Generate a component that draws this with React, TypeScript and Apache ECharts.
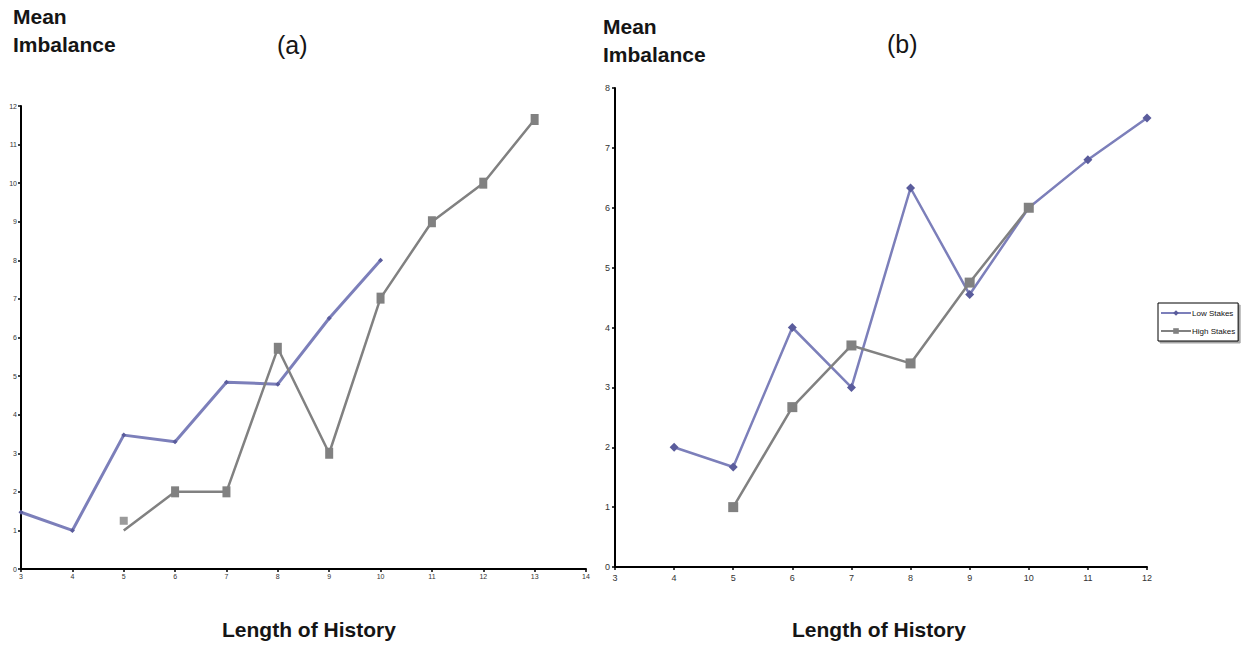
import React, { useEffect, useRef } from "react";
import * as echarts from "echarts";

const historyA = [3, 4, 5, 6, 7, 8, 9, 10, 11, 12, 13];
const lowStakesA = [1.47, 1.0, 3.47, 3.3, 4.84, 4.79, 6.5, 8.0, null, null, null];
const highStakesA = [null, null, 1.0, 2.0, 2.0, 5.72, 3.0, 7.02, 9.0, 10.0, 11.65];
const highStakesAStrayMarker = [[5, 1.25]];

const historyB = [4, 5, 6, 7, 8, 9, 10, 11, 12];
const lowStakesB = [2.0, 1.67, 4.0, 3.0, 6.33, 4.55, 6.0, 6.8, 7.5];
const highStakesB = [null, 1.0, 2.67, 3.7, 3.4, 4.75, 6.0, null, null];

const legendNames = ["Low Stakes", "High Stakes"];

const FONT = "'Liberation Sans', Arial, sans-serif";
const BLUE_LINE = "#7c7fba";
const BLUE_MARK = "#5a5c9c";
const GRAY = "#818181";

function pairs(xs: number[], ys: (number | null)[]) {
  return xs.map((x, i) => [x, ys[i]]).filter((p) => p[1] !== null);
}

export default function App() {
  const ref = useRef<HTMLDivElement>(null);
  useEffect(() => {
    if (!ref.current) return;
    const chart = echarts.init(ref.current, null, { renderer: "svg" });
    const axisCommon = {
      axisLine: { show: true, lineStyle: { color: "#000", width: 2 } },
      axisTick: { show: true, length: 3, lineStyle: { color: "#000", width: 1.5 } },
      splitLine: { show: false },
    };
    const bigTitle = { fontFamily: FONT, fontSize: 21, fontWeight: "bold", color: "#151515", lineHeight: 28 };
    const panelTitle = { fontFamily: FONT, fontSize: 25, fontWeight: "normal", color: "#151515", lineHeight: 25 };
    const axisTitle = { fontFamily: FONT, fontSize: 21, fontWeight: "bold", color: "#151515", lineHeight: 21 };
    chart.setOption({
      animation: false,
      backgroundColor: "#fff",
      textStyle: { fontFamily: FONT },
      title: [
        { text: "Mean\nImbalance", left: 13, top: 2, padding: 0, textStyle: bigTitle },
        { text: "(a)", left: 277, top: 32, padding: 0, textStyle: panelTitle },
        { text: "Mean\nImbalance", left: 603, top: 12, padding: 0, textStyle: bigTitle },
        { text: "(b)", left: 887, top: 31, padding: 0, textStyle: panelTitle },
        { text: "Length of History", left: 222, top: 619, padding: 0, textStyle: axisTitle },
        { text: "Length of History", left: 792, top: 619, padding: 0, textStyle: axisTitle },
      ],
      legend: {
        data: legendNames,
        orient: "vertical",
        left: 1158,
        top: 303,
        itemWidth: 30,
        itemHeight: 7,
        itemGap: 10,
        padding: [6, 3, 6, 2],
        borderColor: "#000",
        borderWidth: 1,
        shadowColor: "rgba(0,0,0,0.35)",
        shadowOffsetX: 2,
        shadowOffsetY: 2,
        shadowBlur: 1,
        backgroundColor: "#fff",
        textStyle: { fontFamily: FONT, fontSize: 8, color: "#111", padding: [0, 0, 0, -4] },
      },
      grid: [
        { left: 21, top: 106, width: 565, height: 463 },
        { left: 615, top: 88, width: 532, height: 479 },
      ],
      xAxis: [
        { ...axisCommon, gridIndex: 0, type: "value", min: 3, max: 14, interval: 1, axisLabel: { fontSize: 7, color: "#333", margin: 4 } },
        { ...axisCommon, gridIndex: 1, type: "value", min: 3, max: 12, interval: 1, axisLabel: { fontSize: 9, color: "#333", margin: 6 } },
      ],
      yAxis: [
        { ...axisCommon, gridIndex: 0, type: "value", min: 0, max: 12, interval: 1, axisLabel: { fontSize: 7, color: "#333", margin: 4 } },
        { ...axisCommon, gridIndex: 1, type: "value", min: 0, max: 8, interval: 1, axisLabel: { fontSize: 9, color: "#333", margin: 5 } },
      ],
      series: [
        {
          name: "Low Stakes", type: "line", xAxisIndex: 0, yAxisIndex: 0,
          data: pairs(historyA, lowStakesA),
          symbol: "diamond", symbolSize: 5,
          lineStyle: { color: BLUE_LINE, width: 3 },
          itemStyle: { color: BLUE_MARK },
        },
        {
          name: "High Stakes", type: "line", xAxisIndex: 0, yAxisIndex: 0,
          data: pairs(historyA, highStakesA).map((p, i) => (i === 0 ? { value: p, symbol: "none" } : { value: p })),
          symbol: "rect", symbolSize: [8, 11],
          lineStyle: { color: GRAY, width: 2.5 },
          itemStyle: { color: GRAY },
        },
        {
          name: "stray", type: "scatter", xAxisIndex: 0, yAxisIndex: 0,
          data: highStakesAStrayMarker,
          symbol: "rect", symbolSize: [8, 8],
          itemStyle: { color: GRAY },
        },
        {
          name: "Low Stakes", type: "line", xAxisIndex: 1, yAxisIndex: 1,
          data: pairs(historyB, lowStakesB),
          symbol: "diamond", symbolSize: 9,
          lineStyle: { color: BLUE_LINE, width: 2.5 },
          itemStyle: { color: BLUE_MARK },
        },
        {
          name: "High Stakes", type: "line", xAxisIndex: 1, yAxisIndex: 1,
          data: pairs(historyB, highStakesB),
          symbol: "rect", symbolSize: 10,
          lineStyle: { color: GRAY, width: 2.5 },
          itemStyle: { color: GRAY },
        },
      ],
    });
    return () => chart.dispose();
  }, []);
  return (
    <div
      ref={ref}
      style={{ position: "fixed", left: 0, top: 0, width: 1247, height: 645, background: "#fff" }}
    />
  );
}
